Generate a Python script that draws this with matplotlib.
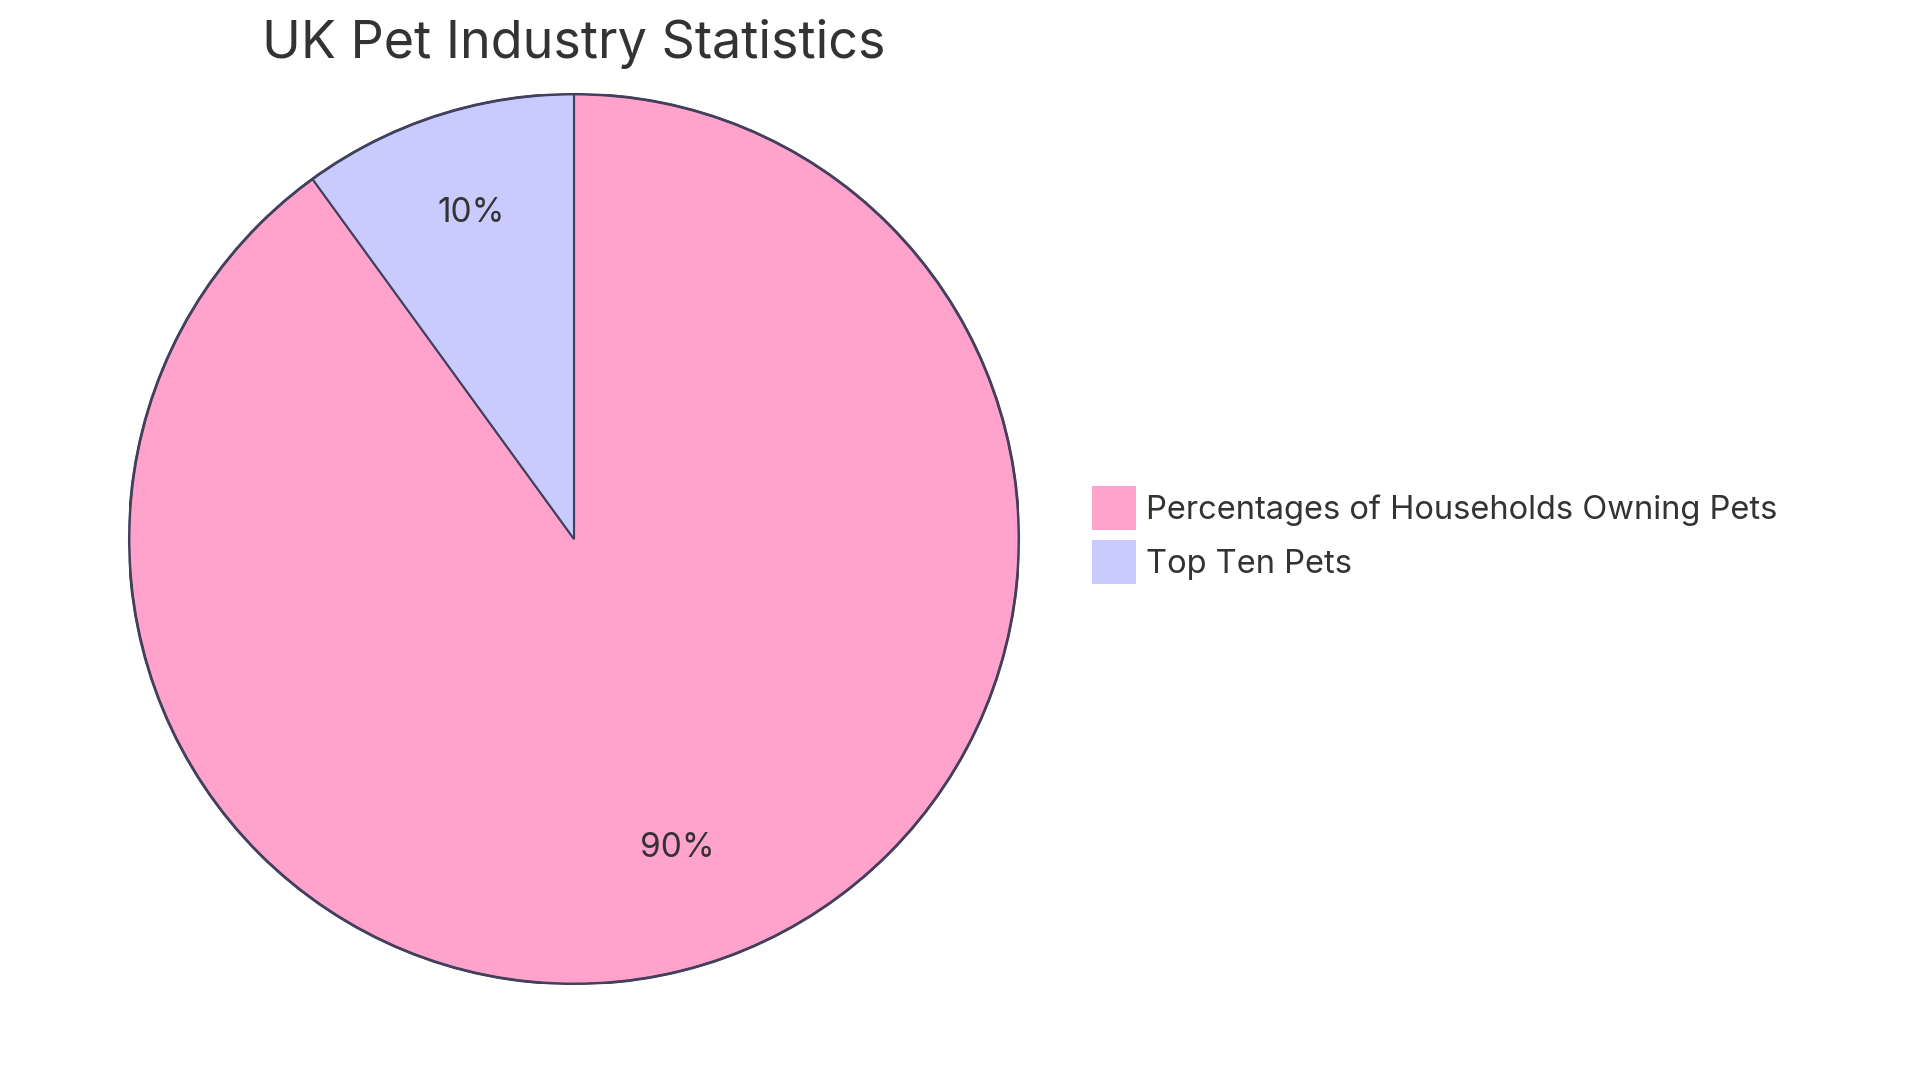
import matplotlib.pyplot as plt
from matplotlib.patches import Patch

labels = ["Percentages of Households Owning Pets", "Top Ten Pets"]
values = [90, 10]
colors = ["#FFA2CC", "#C9CBFF"]

plt.rcParams["font.family"] = ["Inter", "DejaVu Sans"]
TEXT = "#333333"
EDGE = "#42405c"

fig = plt.figure(figsize=(19.2, 10.8), dpi=100)
# pie centre at (574, 539) px, radius 445 px
cx, cy, r = 574, 539, 445
ax = fig.add_axes([(cx - r) / 1920, (1080 - cy - r) / 1080, 2 * r / 1920, 2 * r / 1080])

wedges, texts, autotexts = ax.pie(
    values,
    colors=colors,
    startangle=90,
    counterclock=False,
    autopct="%1.0f%%",
    pctdistance=0.75,
    wedgeprops=dict(edgecolor=EDGE, linewidth=1.5),
    textprops=dict(color=TEXT, fontsize=24),
)
for t in autotexts:
    x, y = t.get_position()
    t.set_position((x, y + 0.02))
ax.add_patch(plt.Circle((0, 0), 1, fill=False, edgecolor=EDGE, linewidth=2))
ax.set_xlim(-1.0, 1.0)
ax.set_ylim(-1.0, 1.0)
ax.set_aspect("equal")
ax.axis("off")

fig.text(cx / 1920, 1 - 44 / 1080, "UK Pet Industry Statistics",
         ha="center", va="center", fontsize=37.5, color=TEXT)

handles = [Patch(facecolor=c, edgecolor="none") for c in colors]
fig.legend(handles, labels, loc="center left", bbox_to_anchor=(1092 / 1920, 1 - 535 / 1080),
           frameon=False, fontsize=23.5, handlelength=1.35, handleheight=1.7,
           handletextpad=0.3, labelspacing=0.3, labelcolor=TEXT,
           borderaxespad=0, borderpad=0)

fig.savefig("out.png", dpi=100, facecolor="white")
